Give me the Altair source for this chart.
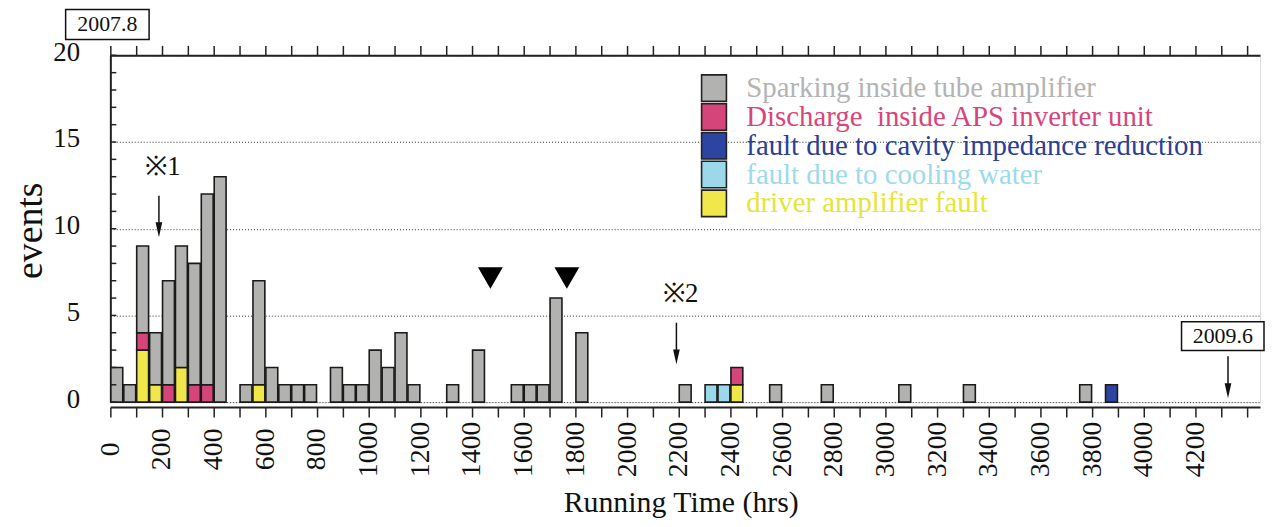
import altair as alt
import pandas as pd

SERIF = "Liberation Serif"

# ---- data (bin start in hours, 50 h bins) ----
BIN = 50
SPARK_T = [0, 50, 100, 150, 200, 250, 300, 350, 400, 500, 550, 600, 650, 700, 750,
           850, 900, 950, 1000, 1050, 1100, 1150, 1300, 1400, 1550, 1600, 1650, 1700,
           1800, 2200, 2550, 2750, 3050, 3300, 3750]
SPARK_N = [2, 1, 5, 3, 6, 7, 7, 11, 13, 1, 6, 2, 1, 1, 1,
           2, 1, 1, 3, 2, 4, 1, 1, 3, 1, 1, 1, 6,
           4, 1, 1, 1, 1, 1, 1]
APS_T = [100, 200, 300, 350, 2400]
APS_N = [1, 1, 1, 1, 1]
CAV_T = [3850]
CAV_N = [1]
COOL_T = [2300, 2350]
COOL_N = [1, 1]
DRV_T = [100, 150, 250, 550, 2400]
DRV_N = [3, 1, 2, 1, 1]

CATS = ["Sparking inside tube amplifier",
        "Discharge\u00a0 inside APS inverter unit",
        "fault due to cavity impedance reduction",
        "fault due to cooling water",
        "driver amplifier fault"]
FILL = ["#b2b3b0", "#d6457a", "#2c45a0", "#9bd8ea", "#f0e84a"]
TEXTC = ["#b4b4b4", "#d8457a", "#2c3f98", "#9ddaea", "#e6e43a"]
STACK_ORDER = [4, 1, 3, 2, 0]  # bottom -> top

XTICKS = list(range(0, 4401, 100))
YLABELS = [0, 5, 10, 15, 20]
YMINOR = list(range(0, 21))

# annotations (data units)
NOTE_TEXT = ["※1", "※2"]
NOTE_X = [204, 2208]
NOTE_Y = [13.58, 6.25]
ARROW_X = [188, 2191, 4326]
ARROW_TOP = [11.9, 4.58, 2.64]
ARROW_TIP = [9.51, 2.18, 0.23]
TRI_X = [1471, 1767]
TRI_Y = [7.16, 7.16]
BOX_TEXT = ["2007.8", "2009.6"]

series = {0: (SPARK_T, SPARK_N), 1: (APS_T, APS_N), 2: (CAV_T, CAV_N),
          3: (COOL_T, COOL_N), 4: (DRV_T, DRV_N)}
rows = []
starts = sorted(set(t for k in series for t in series[k][0]))
for s in starts:
    base = 0
    for k in STACK_ORDER:
        ts, ns = series[k]
        if s in ts:
            n = ns[ts.index(s)]
            rows.append(dict(t0=s, t1=s + BIN, y0=base, y1=base + n,
                             cat=CATS[k], fill=FILL[k]))
            base += n
bars = pd.DataFrame(rows)

xs = alt.Scale(domain=[0, 4450], nice=False, zero=False)


def ys():
    return alt.Scale(domain=[0, 20], nice=False, zero=False)


AXC = "#222222"

bar_layer = alt.Chart(bars).transform_calculate(
    xa="datum.t0 + 2", xb="datum.t1 - 2"
).mark_rect(stroke="#1a1a1a", strokeWidth=1.6).encode(
    x=alt.X("xa:Q", scale=xs, axis=alt.Axis(
        orient="bottom", values=XTICKS, offset=5, tickSize=10, tickWidth=1.5,
        tickColor=AXC, domainColor=AXC, domainWidth=2, grid=False,
        labelAngle=270, labelAlign="center", labelBaseline="middle",
        labelPadding=32, labelFont=SERIF, labelFontSize=28, labelColor="#111",
        labelOverlap=False, labelFlush=False, labelBound=False, format="d",
        labelExpr="(datum.value % 200 === 0 && datum.value <= 4200) ? datum.label : ''",
        title="Running Time (hrs)", titleFont=SERIF, titleFontSize=30,
        titleFontWeight="normal", titleColor="#111", titleX=574, titleY=105,
        titleBaseline="alphabetic", titleAlign="center")),
    x2="xb:Q",
    y=alt.Y("y0:Q", scale=ys(), axis=alt.Axis(
        values=YLABELS, grid=True, gridDash=[1, 2], gridColor="#333",
        gridWidth=1, ticks=False, domainColor=AXC, domainWidth=2,
        labelFont=SERIF, labelFontSize=27, labelColor="#111", labelPadding=31,
        labelBaseline="middle", labelOffset=-3, labelFlush=False, labelBound=False,
        title="events", titleFont=SERIF, titleFontSize=38, titleFontWeight="normal",
        titleColor="#111", titleX=-80, titleY=176, titleAngle=270,
        titleAlign="center", titleBaseline="middle")),
    y2="y1:Q",
    fill=alt.Fill("fill:N", scale=None),
)

top_axis = alt.Chart(bars).mark_rect(opacity=0).encode(
    x=alt.X("t0:Q", scale=xs, axis=alt.Axis(
        orient="top", values=XTICKS, labels=False, tickSize=10, tickWidth=1.5,
        tickColor=AXC, domainColor=AXC, domainWidth=2, grid=False, title=None)),
    x2="t1:Q",
    y=alt.Y("y0:Q", scale=ys(), axis=None),
    y2="y1:Q",
)

minor = alt.Chart(pd.DataFrame({"v": YMINOR})).mark_rule(
    color=AXC, strokeWidth=1.5).encode(
    x=alt.value(0), x2=alt.value(6), y=alt.Y("v:Q", scale=ys(), axis=None))

leg = pd.DataFrame({"row": list(range(len(CATS))), "label": CATS,
                    "fill": FILL, "tcolor": TEXTC})


def legy():
    return alt.Scale(domain=[0, 4], range=[33, 149], nice=False, zero=False)


leg_sq = alt.Chart(leg).transform_calculate(
    ya="datum.row - 0.46", yb="datum.row + 0.46"
).mark_rect(stroke="#222", strokeWidth=1.6).encode(
    x=alt.value(595), x2=alt.value(620),
    y=alt.Y("ya:Q", scale=legy(), axis=None), y2="yb:Q",
    fill=alt.Fill("fill:N", scale=None))

leg_tx = alt.Chart(leg).mark_text(
    align="left", baseline="middle", font=SERIF, fontSize=29).encode(
    x=alt.value(640), y=alt.Y("row:Q", scale=legy(), axis=None),
    text="label:N", color=alt.Color("tcolor:N", scale=None))

notes = pd.DataFrame({"t": NOTE_TEXT, "x": NOTE_X, "y": NOTE_Y})
note_layer = alt.Chart(notes).mark_text(
    font=SERIF, fontSize=27, color="#111", align="center", baseline="middle").encode(
    x=alt.X("x:Q", scale=xs, axis=None), y=alt.Y("y:Q", scale=ys(), axis=None),
    text="t:N")

arrows = pd.DataFrame({"x": ARROW_X, "top": ARROW_TOP, "tip": ARROW_TIP})
arrow_line = alt.Chart(arrows).transform_calculate(
    end="datum.tip + 0.5").mark_rule(color="#111", strokeWidth=1.5).encode(
    x=alt.X("x:Q", scale=xs, axis=None),
    y=alt.Y("top:Q", scale=ys(), axis=None), y2="end:Q")
arrow_head = alt.Chart(arrows).transform_calculate(
    hy="datum.tip + 0.43").mark_point(
    shape="M-0.45,-1L0.45,-1L0,1Z", size=225, filled=True, color="#111",
    opacity=1).encode(
    x=alt.X("x:Q", scale=xs, axis=None), y=alt.Y("hy:Q", scale=ys(), axis=None))

tris = pd.DataFrame({"x": TRI_X, "y": TRI_Y})
tri_layer = alt.Chart(tris).mark_point(
    shape="triangle-down", size=625, filled=True, color="#000", opacity=1).encode(
    x=alt.X("x:Q", scale=xs, axis=None), y=alt.Y("y:Q", scale=ys(), axis=None))

one = pd.DataFrame({"a": [0]})
box1 = alt.Chart(one).mark_rect(fill="white", stroke="#111", strokeWidth=1.5).encode(
    x=alt.value(-45), x2=alt.value(39), y=alt.value(-46), y2=alt.value(-16))
box1t = alt.Chart(one).mark_text(
    text=BOX_TEXT[0], font=SERIF, fontSize=22, color="#111",
    align="center", baseline="middle").encode(x=alt.value(-3), y=alt.value(-31))
box2 = alt.Chart(one).mark_rect(fill="white", stroke="#111", strokeWidth=1.5).encode(
    x=alt.value(1078), x2=alt.value(1161), y=alt.value(268), y2=alt.value(297))
box2t = alt.Chart(one).mark_text(
    text=BOX_TEXT[1], font=SERIF, fontSize=22, color="#111",
    align="center", baseline="middle").encode(x=alt.value(1119.5), y=alt.value(282.5))

chart = alt.layer(
    bar_layer, top_axis, minor, leg_sq, leg_tx, note_layer, arrow_line,
    arrow_head, tri_layer, box1, box1t, box2, box2t
).resolve_scale(y="independent").resolve_axis(x="independent").properties(
    width=1157, height=349, autosize="none",
    padding={"left": 103, "top": 46, "right": 5, "bottom": 116},
).configure_view(stroke=None).configure(background="white")

chart.save("out.html", embed_options={"renderer": "svg", "actions": False})
